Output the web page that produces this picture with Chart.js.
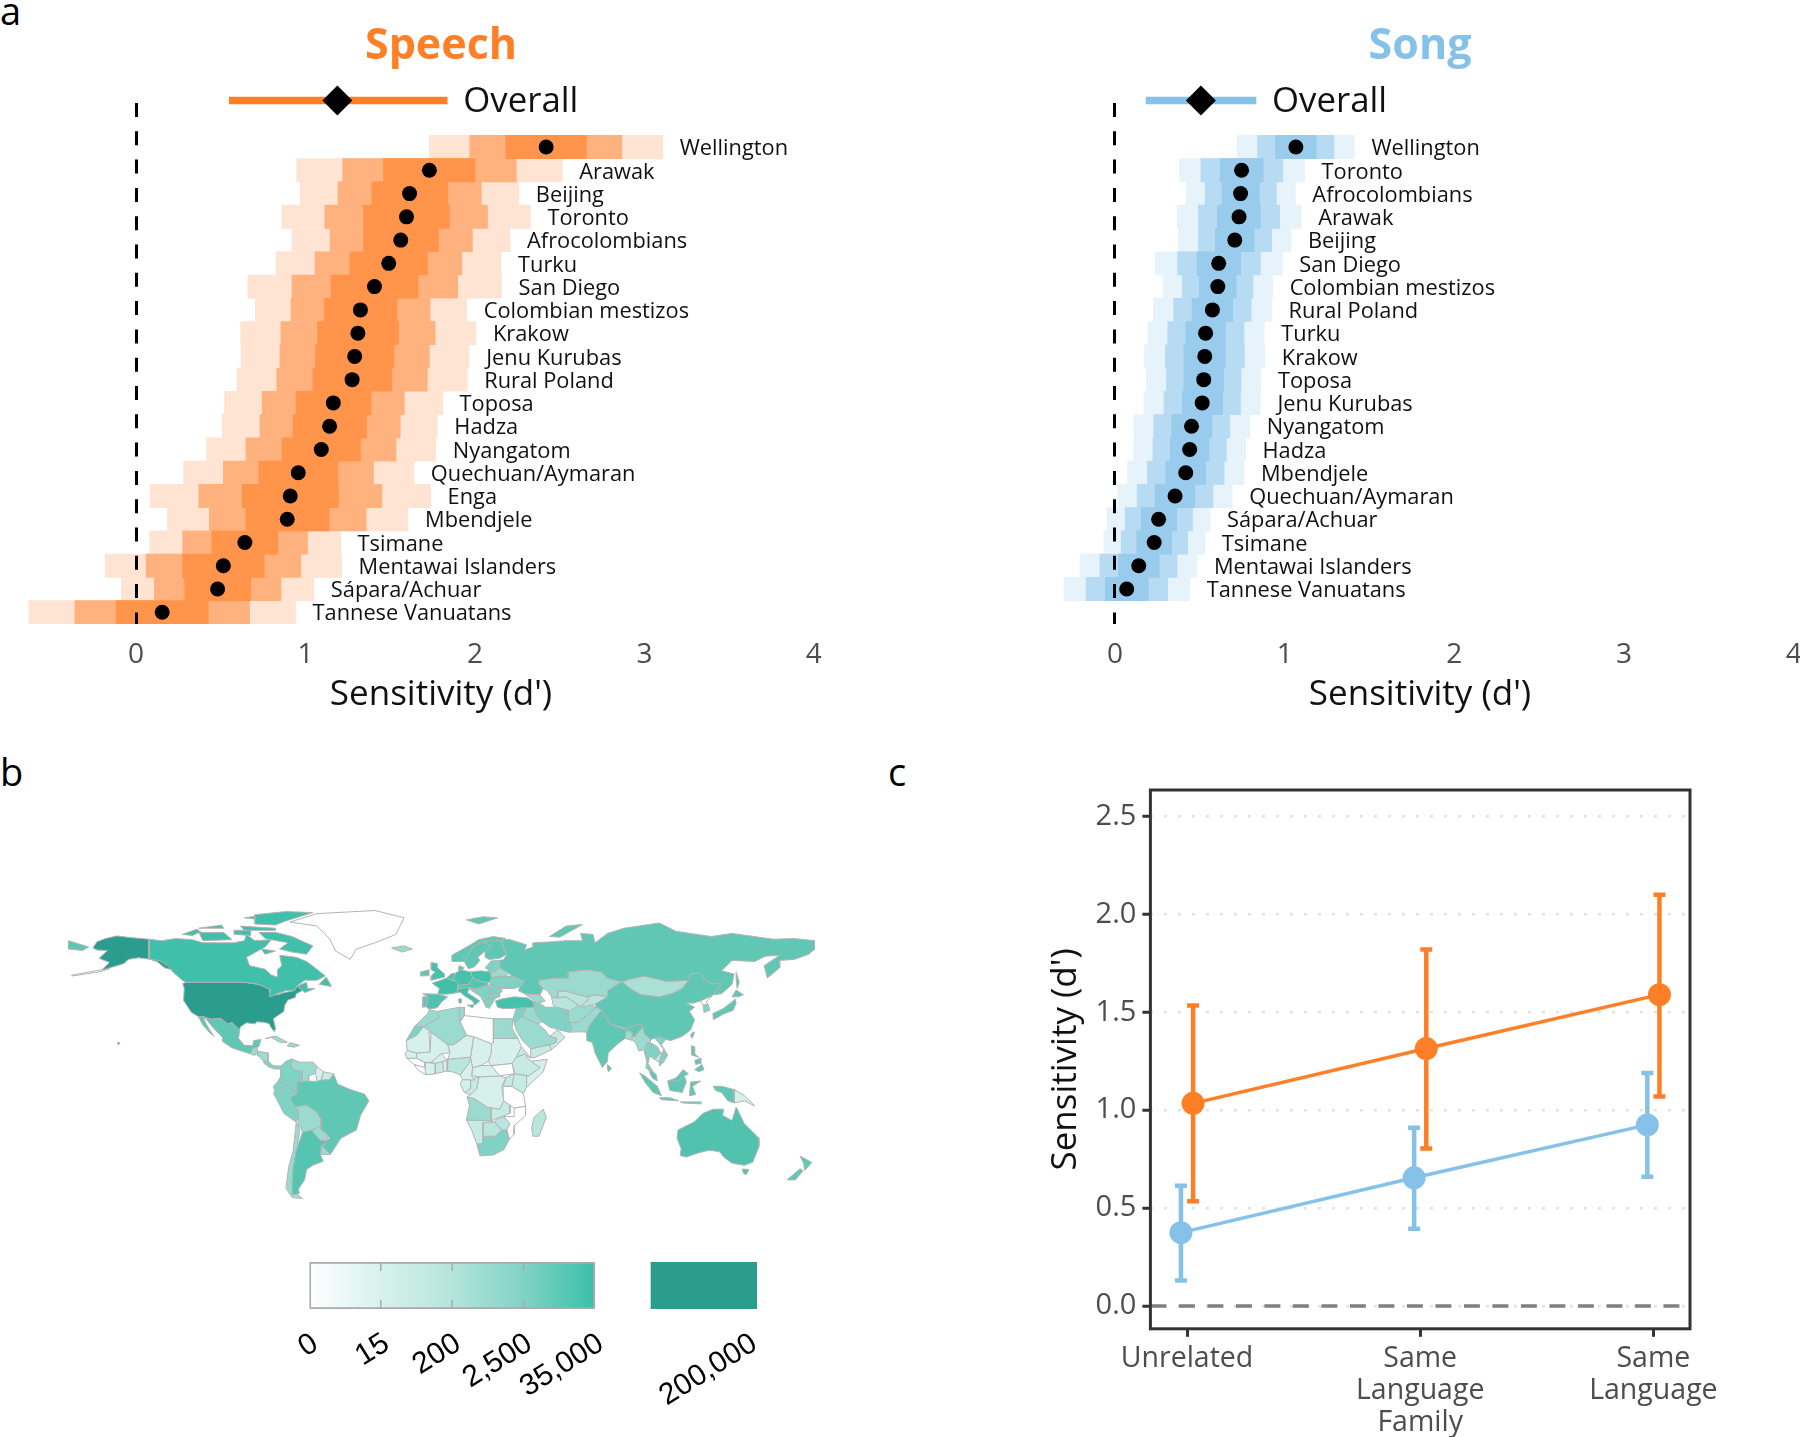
<!DOCTYPE html>
<html>
<head>
<meta charset="utf-8">
<title>Speech and song sensitivity</title>
<script src="https://cdn.jsdelivr.net/npm/chart.js@4/dist/chart.umd.min.js"></script>
<style>
  html, body { margin: 0; background: #fff; }
  #page { position: relative; width: 1800px; height: 1437px; overflow: hidden; font-family: "Open Sans", sans-serif; }
  #page canvas { position: absolute; }
  .tag { position: absolute; font-size: 38px; line-height: 38px; color: #000; }
</style>
</head>
<body>
<div id="page">
  <div class="tag" style="left:0;top:-9px">a</div>
  <div class="tag" style="left:0;top:752px">b</div>
  <div class="tag" style="left:888px;top:752px">c</div>
  <canvas id="speech" width="882" height="720" style="left:0;top:0"></canvas>
  <canvas id="song" width="800" height="720" style="left:1020px;top:0"></canvas>
  <canvas id="map" width="747" height="312" style="left:68px;top:897px"></canvas>
  <canvas id="mapLegend" width="520" height="187" style="left:280px;top:1250px"></canvas>
  <canvas id="groups" width="760" height="677" style="left:1040px;top:760px"></canvas>
</div>
<script>
// panel a, speech
const speechRows = ["Wellington", "Arawak", "Beijing", "Toronto", "Afrocolombians", "Turku", "San Diego", "Colombian mestizos", "Krakow", "Jenu Kurubas", "Rural Poland", "Toposa", "Hadza", "Nyangatom", "Quechuan/Aymaran", "Enga", "Mbendjele", "Tsimane", "Mentawai Islanders", "Sápara/Achuar", "Tannese Vanuatans"];
const speechMean = [2.420, 1.731, 1.614, 1.596, 1.562, 1.491, 1.407, 1.324, 1.309, 1.290, 1.275, 1.164, 1.142, 1.093, 0.957, 0.910, 0.892, 0.642, 0.515, 0.481, 0.154];
const speechLow50 = [2.182, 1.460, 1.392, 1.343, 1.343, 1.262, 1.151, 1.111, 1.071, 1.059, 1.043, 0.944, 0.926, 0.861, 0.725, 0.627, 0.648, 0.448, 0.275, 0.287, -0.117];
const speechHigh50 = [2.657, 2.000, 1.840, 1.849, 1.784, 1.719, 1.664, 1.540, 1.549, 1.522, 1.509, 1.386, 1.361, 1.324, 1.191, 1.194, 1.139, 0.836, 0.756, 0.676, 0.426];
const speechLow80 = [1.969, 1.219, 1.191, 1.114, 1.145, 1.056, 0.920, 0.914, 0.855, 0.849, 0.830, 0.744, 0.731, 0.648, 0.515, 0.370, 0.432, 0.275, 0.059, 0.108, -0.361];
const speechHigh80 = [2.867, 2.244, 2.037, 2.074, 1.985, 1.923, 1.898, 1.735, 1.765, 1.731, 1.719, 1.583, 1.559, 1.534, 1.401, 1.451, 1.358, 1.012, 0.972, 0.855, 0.670];
const speechLow95 = [1.731, 0.948, 0.969, 0.861, 0.920, 0.827, 0.660, 0.704, 0.617, 0.620, 0.596, 0.522, 0.509, 0.417, 0.281, 0.083, 0.185, 0.080, -0.182, -0.086, -0.633];
const speechHigh95 = [3.108, 2.515, 2.259, 2.327, 2.207, 2.154, 2.157, 1.951, 2.006, 1.966, 1.954, 1.809, 1.778, 1.769, 1.639, 1.738, 1.605, 1.207, 1.213, 1.049, 0.941];
const speechOverall = [0.55, 1.188, 1.836];

// panel a, song
const songRows = ["Wellington", "Toronto", "Afrocolombians", "Arawak", "Beijing", "San Diego", "Colombian mestizos", "Rural Poland", "Turku", "Krakow", "Toposa", "Jenu Kurubas", "Nyangatom", "Hadza", "Mbendjele", "Quechuan/Aymaran", "Sápara/Achuar", "Tsimane", "Mentawai Islanders", "Tannese Vanuatans"];
const songMean = [1.066, 0.746, 0.740, 0.731, 0.706, 0.611, 0.606, 0.574, 0.534, 0.529, 0.523, 0.514, 0.451, 0.440, 0.417, 0.354, 0.257, 0.231, 0.140, 0.069];
const songLow50 = [0.946, 0.620, 0.631, 0.603, 0.591, 0.483, 0.497, 0.454, 0.417, 0.406, 0.406, 0.397, 0.334, 0.326, 0.300, 0.237, 0.154, 0.129, 0.020, -0.057];
const songHigh50 = [1.186, 0.874, 0.851, 0.857, 0.820, 0.740, 0.714, 0.694, 0.651, 0.651, 0.640, 0.634, 0.571, 0.554, 0.534, 0.471, 0.363, 0.334, 0.260, 0.197];
const songLow80 = [0.840, 0.506, 0.531, 0.491, 0.491, 0.369, 0.397, 0.346, 0.311, 0.297, 0.303, 0.289, 0.229, 0.223, 0.191, 0.131, 0.060, 0.037, -0.089, -0.171];
const songHigh80 = [1.291, 0.989, 0.951, 0.971, 0.923, 0.857, 0.814, 0.803, 0.760, 0.763, 0.743, 0.740, 0.677, 0.657, 0.643, 0.577, 0.457, 0.429, 0.366, 0.311];
const songLow95 = [0.720, 0.380, 0.420, 0.366, 0.374, 0.237, 0.283, 0.226, 0.194, 0.174, 0.186, 0.171, 0.111, 0.111, 0.074, 0.017, -0.046, -0.066, -0.206, -0.300];
const songHigh95 = [1.411, 1.117, 1.063, 1.097, 1.037, 0.986, 0.929, 0.923, 0.880, 0.883, 0.860, 0.857, 0.794, 0.769, 0.760, 0.691, 0.560, 0.529, 0.483, 0.440];
const songOverall = [0.183, 0.506, 0.831];

// panel c
const groupTicks = [0, 1, 2];
const groupLabels = [["Unrelated"], ["Same", "Language", "Family"], ["Same", "Language"]];
const speechGroupX = [0.026, 1.026, 2.026];
const speechGroupMean = [1.035, 1.315, 1.59];
const speechGroupLow = [0.535, 0.805, 1.07];
const speechGroupHigh = [1.535, 1.82, 2.10];
const songGroupX = [-0.026, 0.974, 1.974];
const songGroupMean = [0.375, 0.655, 0.925];
const songGroupLow = [0.13, 0.395, 0.66];
const songGroupHigh = [0.615, 0.91, 1.19];

// panel b legend
const legendTickValues = [0, 1, 2, 3, 4, 6.15];
const legendTickLabels = ["0", "15", "200", "2,500", "35,000", "200,000"];
const legendRamp = [0, 4];
const legendTop = [4.785, 6.27];

const ORANGE = "#ff7f27";
const BLUE = "#85c1e9";
const INK = "#4d4d4d";
const FONT = "'Open Sans', sans-serif";

// panel b shades, sample size per country
const sUsa = "#2a9d8f", sCan = "#40bfab", sTur = "#45c1ac", sAus = "#50c2ae", sArg = "#55c4b1", sRus = "#61c7b5";
const sPer = "#80d2c4", sKaz = "#9bdbcf", sMon = "#aae0d6", sNam = "#b8e6dd", sNga = "#c5ebe3", sCod = "#d6f1ec", sNil = "#ffffff";

// outlines in [lon, lat]
const mapShapes = [
  [sNil, [[-73,78],[-60,82],[-32,83.5],[-18,80],[-22,72],[-32,68],[-41,65],[-44,60],[-51,64],[-54,70],[-60,76]]],
  [sNil, [[-178,52],[-165,54],[-160,55.5],[-165,54.8],[-178,52.5]]],
  [sUsa, [[-168,65.5],[-166,68.5],[-162,70],[-156.5,71.3],[-150,70.5],[-141,69.7],[-141,60.3],[-137,58.9],[-133.5,56],[-130,55],[-132,57],[-136,59.5],[-140,60],[-146,60.8],[-151,60],[-153,58],[-158,56.5],[-164,54.7],[-160,58.5],[-165,60.5],[-161,64.3],[-166,64.5]]],
  [sUsa, [[-156,20.3],[-155,19.8],[-155.5,19],[-156,19.5]]],
  [sCan, [[-141,69.7],[-135,69],[-128,70],[-120,69.5],[-115,68],[-108,68],[-100,68],[-95,69],[-94,72],[-90,69],[-82,69.5],[-85,66],[-94,61],[-92.5,57],[-85,55.3],[-82,52.5],[-79,51.5],[-79,55],[-77,57],[-78,62],[-70,61],[-65,59],[-61,56],[-56,52],[-60,50],[-66,50],[-70,47],[-65,49],[-64.5,46],[-61,46],[-66,44],[-67,45.2],[-69.5,47.3],[-71,45],[-75,45],[-79,43.5],[-83,42],[-82.5,45.5],[-88,48],[-95,49],[-123,49],[-125,50],[-130,54.5],[-130,55],[-134,58],[-137,59],[-141,60.3]]],
  [sCan, [[-80,73],[-72,71],[-62,66.5],[-65,62.5],[-72,63.5],[-78,65],[-74,68],[-85,70],[-88,73]]],
  [sCan, [[-117,73],[-105,73],[-101,69.5],[-115,69]]],
  [sCan, [[-90,77],[-80,76.5],[-75,78.5],[-62,82.5],[-75,83],[-90,81.5]]],
  [sCan, [[-125,72],[-118,74.5],[-116,73.3],[-120,71.5]]],
  [sCan, [[-97,76],[-80,75],[-80,74],[-95,74]]],
  [sCan, [[-117,75],[-106,76.5],[-105,75]]],
  [sCan, [[-95,80],[-87,79],[-88,81]]],
  [sCan, [[-100,74],[-92,74],[-92,71.5],[-100,72]]],
  [sCan, [[-87,65],[-80,64],[-85,62.5]]],
  [sCan, [[-59,48],[-53,47],[-55.5,51.5]]],
  [sUsa, [[-124.7,48.4],[-123,49],[-95,49],[-88,48],[-83,46],[-82.5,43],[-79,43],[-76,44],[-71,45],[-69.5,47.3],[-67,45],[-70,43.5],[-70.5,41.7],[-74,40.5],[-75.5,38],[-76,35],[-81,31.5],[-80,26.8],[-80.5,25.2],[-82,27],[-83,29],[-85,29.7],[-89,30],[-90,29],[-94,29.5],[-97,27.5],[-97.3,26],[-101,29.7],[-103,29],[-106.5,31.7],[-111,31.3],[-115,32.5],[-117.2,32.5],[-120.5,34.5],[-122.5,37.5],[-124.3,40.3],[-124,46]]],
  [sRus, [[-117.2,32.5],[-115,32.5],[-111,31.3],[-106.5,31.7],[-103,29],[-101,29.7],[-97.3,26],[-97.8,22],[-95,18.7],[-91,18.5],[-90.5,21],[-87,21.5],[-88,18],[-89,17.8],[-91,17.2],[-92.2,14.6],[-96,15.8],[-101,17.5],[-105.5,20.5],[-105.5,22.5],[-109,26],[-112.5,30],[-113.5,31.5],[-114.7,31.5],[-112,26.5],[-109.5,23],[-112,25],[-115,28.5]]],
  [sKaz, [[-92.2,14.6],[-91,17.2],[-89,17.8],[-88.5,15.8],[-90,13.8]]],
  [sKaz, [[-89,14],[-88.5,15.8],[-83.3,15],[-83.6,11],[-85.8,11],[-87.6,13]]],
  [sPer, [[-85.8,11],[-83.6,11],[-81,8.9],[-77.4,8.7],[-78,7.3],[-80.5,7.3],[-83,8.2],[-85.5,10]]],
  [sKaz, [[-85,22],[-80,23.2],[-74.2,20.2],[-77.5,19.9],[-82,22.4]]],
  [sKaz, [[-74.4,18.4],[-73,20],[-68.5,18.7],[-71,17.8]]],
  [sPer, [[-77.4,8.7],[-75,11],[-72,12.2],[-72.5,9],[-71.5,7],[-67.5,6.2],[-67.3,2],[-70,1],[-69.8,-4.2],[-72,-2.3],[-75,0],[-78.8,1.4],[-77.4,4],[-77.8,7]]],
  [sKaz, [[-72,12],[-68,10.5],[-62,10.7],[-60,8.5],[-61,5],[-60.7,5.2],[-64,4],[-64,1.5],[-67,1.5],[-67.5,6.2],[-71.5,7],[-72.5,9]]],
  [sCod, [[-60,8.5],[-57,6],[-58,2],[-60,1.3],[-60.7,5.2],[-61,7]]],
  [sNga, [[-57,6],[-52,5],[-54,2.3],[-58,2]]],
  [sPer, [[-78.8,1.4],[-75,0],[-75.5,-1.5],[-78.5,-4.8],[-80.3,-3.4],[-81,-1]]],
  [sPer, [[-81,-4.5],[-80.3,-3.4],[-78.5,-4.8],[-75.5,-1.5],[-75,0],[-72,-2.3],[-69.8,-4.2],[-73,-7],[-70.5,-11],[-69,-12.5],[-69,-16],[-70,-18.3],[-76,-14],[-79,-8]]],
  [sRus, [[-60,5],[-60,1.3],[-64,1.5],[-67,1.5],[-70,1],[-69.8,-4.2],[-73,-7],[-70.5,-11],[-65.3,-10],[-60,-13.5],[-58,-17],[-58,-22],[-55,-24],[-54,-26],[-57.5,-30],[-53.5,-33.7],[-48.5,-26],[-41,-22],[-39,-15],[-35,-8],[-37,-4.8],[-44,-2.5],[-50,0],[-52,5],[-54,2.3],[-58,2]]],
  [sKaz, [[-69,-12.5],[-70.5,-11],[-65.3,-10],[-60,-13.5],[-58,-17],[-58,-20],[-62.5,-22],[-67,-23],[-69,-19],[-69,-16]]],
  [sKaz, [[-62.5,-22],[-58,-20],[-58,-22],[-55,-24],[-54.6,-27],[-58.5,-27]]],
  [sArg, [[-67,-23],[-62.5,-22],[-58.5,-27],[-54.6,-27],[-58,-30],[-58.3,-34],[-57,-37],[-62,-39],[-65,-41],[-66,-46],[-69,-50.5],[-68.5,-52.5],[-72,-53],[-72,-48],[-71.5,-40],[-70,-32]]],
  [sKaz, [[-70,-18.3],[-69.2,-19],[-68.3,-23],[-70,-32],[-71.2,-40],[-72,-48],[-70,-52.5],[-67,-55],[-72,-54.5],[-75,-50],[-73.7,-40],[-71.5,-32],[-70.4,-22]]],
  [sKaz, [[-58,-30.2],[-57.5,-30],[-53.5,-33.7],[-58.3,-34]]],
  [sKaz, [[-24,65.5],[-18,66.5],[-14,65],[-19,63.5]]],
  [sTur, [[-5,50],[1.5,51.5],[1.5,53],[-2,56],[-2,58],[-5,58.5],[-5,55],[-3,54],[-5,52]]],
  [sRus, [[-10,52],[-6,52.2],[-6,55],[-10,54]]],
  [sCan, [[-4.5,48.5],[2.5,51],[8,49],[7.5,44],[3,43.3],[-1.8,43.3],[-1,46]]],
  [sAus, [[-9,43.5],[-1.8,43.3],[3,42],[0,39.5],[-2,36.8],[-6,36],[-7.3,37.2],[-6.5,42]]],
  [sRus, [[-9,37],[-7.3,37.2],[-6.5,42],[-9,42]]],
  [sTur, [[6,51],[7,53.5],[9,55],[14,54],[15,51],[13,48],[8,47.6],[6,49.5]]],
  [sAus, [[2.5,51],[4.5,53],[7,53.5],[6,50]]],
  [sRus, [[8,55],[8.5,57],[11,56],[10,54.8]]],
  [sTur, [[14,54],[19,54.5],[23.5,54],[24,50.5],[22.5,49],[19,49.5],[15,51]]],
  [sCan, [[7.5,44],[8,46],[13.5,46.5],[12.5,44],[16,41.7],[18.5,40],[16,38],[15,40],[11,42.5],[9,44.3]]],
  [sCan, [[12.5,38],[15.5,38.2],[15,36.7]]],
  [sCan, [[8.2,41],[9.7,41],[9.5,39],[8.5,39]]],
  [sArg, [[8,47.6],[13,48],[15,51],[19,49.5],[22.5,49],[22,47.5],[16.5,46],[13.5,46.5],[8,46]]],
  [sPer, [[22,47.5],[24,48],[28,46],[29.5,45],[28,43.7],[22.7,44]]],
  [sPer, [[22.7,44],[28,43.7],[28,42],[26,41.3],[23,41.3]]],
  [sPer, [[13.5,46],[16.5,46],[22,47.5],[22.7,44],[23,41.3],[20,40],[19,42],[14.5,45]]],
  [sPer, [[20,40],[23,41.3],[26,41.3],[24,38],[23,36.5],[21.5,37]]],
  [sRus, [[5,59],[5,62],[13,66.5],[18,69.5],[25,71],[31,70],[29,69],[20,68.8],[15,66],[12,61],[11,59]]],
  [sRus, [[11,59],[12,61],[15,66],[20,68.8],[24,66],[21,64],[17.5,61],[18.5,59.5],[16,56.5],[13,55.5]]],
  [sRus, [[20,68.8],[29,69.5],[30,65],[31.5,62.5],[28,60.5],[23,60],[21,61],[21,64],[24,66]]],
  [sPer, [[21,56],[24,59.3],[28,59.5],[28,56],[26,54],[23.5,54]]],
  [sKaz, [[23.5,54],[26,54],[28,56],[32,53.5],[31,52],[24,51.5]]],
  [sPer, [[24,50.5],[24,51.5],[31,52],[34,52],[40,49.5],[38,47],[35,46],[33,46],[30,46],[28,46],[24,48],[22.5,49]]],
  [sRus, [[28,59.5],[30,60],[31.5,62.5],[30,65],[29,69.5],[33,69.5],[41,67],[40,64.5],[44,66],[44,68],[54,68.5],[60,69],[68,69],[67,72.5],[73,72],[74,68],[80,72.5],[88,75],[105,77.5],[113,73.5],[130,71],[140,72.5],[160,69.7],[170,70],[180,69],[180,65],[177,62.5],[170,60],[163,59.5],[163,56],[157,51],[155.5,57],[163,62],[156,61.5],[151,59],[140,59.5],[135,54.5],[141,53],[140,48],[135,43.5],[131,43],[135,48.5],[130.5,48.5],[127,50],[125,53.5],[120,53],[119,50],[116,49.8],[108,49.5],[98,52],[92,50.8],[87,49.2],[80,51],[77,54],[70,55],[61,54],[61,51],[55,51],[47,50],[47,48],[49,46],[47.5,43],[40,43.5],[37,45],[38,47],[40,49.5],[34,52],[32,53.5],[28,56]]],
  [sRus, [[-180,69],[-175,67.5],[-170,66],[-173,64.3],[-180,65]]],
  [sRus, [[52,71],[57,70.7],[68,76.8],[60,76]]],
  [sRus, [[142,54],[143.5,49],[142.5,46],[142,50]]],
  [sRus, [[12,79],[20,80.5],[27,80],[18,77]]],
  [sKaz, [[47,50],[55,51],[61,51],[61,54],[70,55],[77,54],[80,51],[87,49.2],[83,47],[80,45],[80,42],[74,43],[70,42],[66,43],[61,44.5],[56,45],[56,41.5],[53,42],[51,45],[49,46],[47,48]]],
  [sNam, [[53,42],[56,41.5],[60,42],[66,38],[62,35.3],[54,37.5]]],
  [sNam, [[56,45],[61,44.5],[66,43],[70,42],[71,41],[67,37.3],[66,38],[60,42],[56,41.5]]],
  [sNam, [[70,42],[74,43],[80,42],[74,38.5],[68,37],[67,37.3],[71,41]]],
  [sKaz, [[40,43.5],[47.5,43],[50,40],[46,38.8],[43.5,41]]],
  [sTur, [[26,40],[29,41],[35,42],[41.5,41.5],[44.5,39.5],[44.5,37],[36,36.5],[30,36.3],[27,37]]],
  [sPer, [[44.5,39.5],[48,38.5],[50,37],[54,37],[61,36.5],[61,31.5],[63,27],[61.5,25],[57,26],[52,27.5],[48.5,30],[46,33],[44.5,37]]],
  [sKaz, [[41,37],[44.5,37],[46,33],[48.5,30],[46.5,29],[39,32.5]]],
  [sPer, [[36,36.5],[41,37],[39,32.5],[35,29.5],[34.5,31.5]]],
  [sKaz, [[35,29.5],[39,32.5],[46.5,29],[50,26],[52,23],[55.5,22],[55,20],[52,19],[43,17],[39,21],[36,26]]],
  [sNga, [[43,17],[52,19],[53,16.5],[45,12.8],[43,12.8]]],
  [sNga, [[52,23],[56,26],[59.5,22.5],[53,16.5],[52,19],[55,20],[55.5,22]]],
  [sKaz, [[61,36.5],[66,38],[71,38.5],[74.5,37],[71,34],[66.5,30],[61,29.5],[61,31.5]]],
  [sKaz, [[61,29.5],[66.5,30],[71,34],[74.5,37],[77,35.5],[74,32],[71,28],[70,25],[66.5,25.2],[61.5,25],[63,27]]],
  [sRus, [[74,32],[77,35.5],[79,32.5],[81,29],[88,26.5],[89,26.8],[96,29],[97,27.5],[94,24],[92,22],[92,25],[89,26],[88.5,22],[85,19.5],[80.3,15],[80,11],[77.5,8],[74,15],[72.7,20],[70,21],[70,25],[71,28]]],
  [sKaz, [[88.5,22],[89,26],[92,25],[92,21]]],
  [sRus, [[80,9.5],[82,7.5],[80.5,6],[79.8,8]]],
  [sRus, [[74,39.5],[80,42],[80,45],[83,47],[87,49.2],[91,46],[96,43],[105,42],[111,43.5],[116,46],[119,50],[120,53],[125,53.5],[127,50],[130.5,48.5],[135,48.5],[131,43],[128,41.5],[124.5,40],[121.5,39],[118,39],[122,37],[119.5,35],[122,31],[120,26],[116,23],[110.5,21],[108,21.5],[105,23],[101,21.5],[98,24],[97,27.5],[96,29],[89,26.8],[81,29],[79,32.5],[77,35.5],[74.5,37]]],
  [sMon, [[87,49.2],[92,50.8],[98,52],[108,49.5],[116,49.8],[119,50],[116,46],[111,43.5],[105,42],[96,43],[91,46]]],
  [sPer, [[126,38],[128.5,38.5],[129.3,35.5],[126.5,34.5]]],
  [sNil, [[124.5,40],[128,41.5],[130.5,42.5],[127.5,39.5],[128.5,38.5],[126,38]]],
  [sRus, [[130.8,34],[136,36.5],[140,39.5],[141.5,41],[142,39],[140.5,35.5],[136,33.8],[131,31]]],
  [sRus, [[140,42],[142,45.3],[145.5,43],[143,42]]],
  [sRus, [[121,25],[122,25],[120.8,22],[120,23.5]]],
  [sKaz, [[92.5,21],[94,24],[97,27.5],[98,24],[101,21.5],[99,20],[98,16],[99,11],[97.5,16.5],[95,16],[94,19]]],
  [sPer, [[99,20],[100.5,20],[104,18],[105.5,15],[102.5,12],[100.5,13.5],[99.5,10],[102,6],[100,6.5],[98.5,8],[99,11],[98,16]]],
  [sNil, [[101,21.5],[102.5,22.5],[107,17],[106.5,15],[105.5,15],[104,18],[100.5,20]]],
  [sPer, [[102.5,22.5],[105,23],[108,21.5],[106,19],[109,14],[107,10.5],[105,8.7],[105,10.5],[106.5,15],[107,17]]],
  [sNam, [[102.5,12],[105.5,15],[106.5,15],[105,10.5]]],
  [sRus, [[100,6.5],[102,6],[103.5,4.5],[104,1.5],[101.5,3]]],
  [sRus, [[95.5,5.5],[98,4],[104,-1],[106,-5.5],[102,-4],[98,1]]],
  [sRus, [[105,-6.5],[110,-6.5],[114.5,-8],[106,-7.5]]],
  [sRus, [[109,1.5],[114,1.5],[117,4],[118,1],[116,-4],[110,-3]]],
  [sRus, [[109,1.5],[113,3],[116.5,7],[119,5],[117,4],[114,1.5]]],
  [sRus, [[120,1],[125,1.5],[121,-1],[122.5,-5],[119.5,-5.5]]],
  [sRus, [[120.5,18.5],[122,18],[122,14.5],[124,13],[120.5,14]]],
  [sRus, [[122,7],[125.5,9.5],[126.5,7],[124,6]]],
  [sRus, [[122,11.5],[125,12.5],[125,10],[122.5,9.5]]],
  [sRus, [[131,-1],[135,-1],[141,-2.6],[141,-9],[138,-8],[135,-4],[132,-3]]],
  [sCod, [[141,-2.6],[146,-5.5],[151,-10.5],[146,-8],[141,-9]]],
  [sRus, [[115,-8.5],[125,-8.5],[125,-9.5],[116,-9]]],
  [sAus, [[114,-22],[122,-18],[126,-14],[131,-12],[136,-12],[135.5,-15],[140,-17.5],[142,-11],[146,-19],[153,-26],[153,-30],[150,-37.5],[146,-39],[140,-38],[136,-35],[134,-32.5],[129,-31.7],[124,-33],[118,-35],[115,-34.3],[115.5,-31],[113.5,-26]]],
  [sAus, [[144.8,-40.8],[148.2,-41],[146.8,-43.5],[145.5,-42.8]]],
  [sRus, [[172.8,-34.5],[178.5,-37.7],[175,-41.5],[174.5,-38]]],
  [sRus, [[172.8,-40.6],[174.2,-41.7],[170.5,-46],[166.5,-46],[170,-43]]],
  [sKaz, [[-5.8,35.8],[-2,35],[-1,32],[-5,30],[-8.7,27.7],[-13,27.7],[-9.8,31],[-7,33.5]]],
  [sPer, [[-13,27.7],[-8.7,27.7],[-12,23.5],[-17,21]]],
  [sKaz, [[-2,35],[8.5,37],[9,30],[12,23.5],[6,19],[3,19],[-5,25],[-8.7,27.7],[-5,30],[-1,32]]],
  [sKaz, [[8.5,37],[11,37],[11,33],[9,30]]],
  [sNil, [[9,30],[11,33],[20,32],[25,31.5],[25,20],[24,19.5],[15,23],[12,23.5]]],
  [sKaz, [[25,31.5],[34.5,31.5],[34,27],[36.8,22],[25,22]]],
  [sCod, [[-17,21],[-12,23.5],[-8.7,27.7],[-5,25],[-6,25],[-5.5,15.5],[-12,15],[-16.5,16.3]]],
  [sCod, [[-12,15],[-5.5,15.5],[-5,25],[3,19],[4,15],[0,14.8],[-5,10.5],[-8,10.5],[-12,12.5]]],
  [sCod, [[4,15],[3,12],[14,13],[15.5,23],[12,23.5],[6,19],[3,19]]],
  [sCod, [[14,13],[15,8],[19,9],[22.5,11],[24,15],[24,19.5],[15.5,23]]],
  [sCod, [[24,19.5],[25,22],[36.8,22],[38.5,18],[36,13],[34,10],[24,9],[22.5,11],[24,15]]],
  [sNil, [[24,9],[34,10],[35,5],[28,4]]],
  [sCod, [[-17.5,14.7],[-16.5,16.3],[-12,15],[-12,12.5],[-16.7,12.4]]],
  [sNil, [[-16.7,12.4],[-12,12.5],[-8,10.5],[-8,8],[-13.2,9.5]]],
  [sNil, [[-13.2,9.5],[-10.5,9],[-8,8],[-7.5,4.5],[-11.5,7]]],
  [sCod, [[-8,10.5],[-3,10],[-3,5],[-7.5,4.5],[-8,8]]],
  [sCod, [[-5,10.5],[0,14.8],[2.5,11.5],[-3,10]]],
  [sNga, [[-3,10],[0.5,11],[1,6],[-3,5]]],
  [sCod, [[0.5,11],[3,12],[2.7,6.3],[1,6]]],
  [sNam, [[3,12],[14,13],[13.5,10.5],[9,4.5],[5,6],[2.7,6.3]]],
  [sCod, [[9,4.5],[13.5,10.5],[14,13],[15,8],[14.5,4],[16,2],[10,2.2]]],
  [sCod, [[15,8],[19,9],[24,9],[28,4],[19,3.5],[14.5,4]]],
  [sCod, [[10,2.2],[14,2.2],[14,-2],[11,-4],[9,0]]],
  [sNga, [[14,2.2],[18,3.5],[17,-2],[14,-5],[11,-4],[14,-2]]],
  [sCod, [[18,3.5],[28,4],[31,3],[29,-1],[30,-8],[28,-12],[22,-11],[16,-7],[12.3,-6],[14,-5],[17,-2]]],
  [sNga, [[36,13],[38.5,18],[43,12.5],[40,14.5]]],
  [sNga, [[34,10],[36,13],[40,14.5],[43,11],[47.5,8],[42,4],[35.5,5]]],
  [sCod, [[43,11],[51,12],[49,6],[41,-1.5],[41,4],[42,4],[47.5,8]]],
  [sNga, [[35,5],[42,4],[41,-1.5],[39.5,-4.5],[34,-1]]],
  [sNga, [[31,3],[35,5],[34,-1],[29.7,-1]]],
  [sNil, [[29.7,-1],[34,-1],[39.5,-4.5],[40.5,-10.5],[35,-11.5],[30,-8]]],
  [sKaz, [[12.3,-6],[16,-7],[22,-11],[24,-11],[24,-17.5],[12,-17.2],[13.5,-10]]],
  [sNga, [[22,-11],[28,-12],[30,-8],[33,-9],[33,-14],[28,-16],[24,-17.5],[24,-11]]],
  [sNil, [[35,-11.5],[40.5,-10.5],[40.5,-15],[35,-20],[35,-24],[32.8,-26.5],[31.5,-22],[33,-19],[30,-15.5],[35,-15.5]]],
  [sNam, [[25.5,-18],[28,-16],[33,-16.5],[33,-19],[31.5,-22],[29,-22]]],
  [sNga, [[12,-17.2],[24,-17.5],[25.5,-18],[20,-18.5],[20,-28.5],[17,-28.7],[14.5,-22]]],
  [sNam, [[20,-18.5],[25.5,-18],[29,-22],[26,-25],[20,-25]]],
  [sPer, [[17,-28.7],[20,-28.5],[20,-25],[26,-25],[29,-22],[31.5,-22],[32.8,-26.5],[30,-31.5],[25,-34],[18.5,-34.5]]],
  [sNam, [[49,-12],[50.5,-16],[47,-25],[44,-25],[43.5,-21],[44.5,-16]]]
];

Chart.defaults.animation = false;
Chart.defaults.font.family = FONT;
Chart.defaults.plugins.legend.display = false;
Chart.defaults.plugins.tooltip.enabled = false;

// names to the right of each row, and "Overall"
const rowText = {
  id: "rowText",
  afterDatasetsDraw(chart, args, opts) {
    const ctx = chart.ctx;
    ctx.save();
    ctx.textBaseline = "middle";
    ctx.fillStyle = "#111";
    opts.rows.forEach((name, i) => {
      ctx.font = "21.8px " + FONT;
      ctx.fillText(name, chart.scales.x.getPixelForValue(opts.ends[i]) + 17, chart.scales.y.getPixelForValue(name) + 2);
    });
    ctx.font = "34.8px " + FONT;
    ctx.fillText("Overall", chart.scales.x.getPixelForValue(opts.overallEnd) + 16, chart.scales.y.getPixelForValue("Overall") + 2);
    ctx.restore();
  }
};

function forestChart(id, cfg) {
  const span = (lo, hi) => cfg.rows.map((r, i) => ({ y: r, x: [lo[i], hi[i]] }));
  const band = (lo, hi, color, order) => ({
    data: span(lo, hi), backgroundColor: color, order: order,
    barPercentage: 1, categoryPercentage: 1, grouped: false
  });
  // both panels keep the same row height, song has one row less
  const blanks = cfg.rows.length < 21 ? ["  "] : [];
  return new Chart(document.getElementById(id), {
    type: "bar",
    data: {
      labels: ["Overall", " "].concat(cfg.rows, blanks),
      datasets: [
        { type: "line", showLine: false, data: cfg.rows.map((r, i) => ({ y: r, x: cfg.mean[i] })), pointRadius: 7.5, pointBackgroundColor: "#000", pointBorderWidth: 0, order: 0 },
        { type: "line", showLine: false, data: [{ y: "Overall", x: cfg.overall[1] }], pointStyle: "rectRot", pointRadius: 15, pointBackgroundColor: "#000", pointBorderWidth: 0, order: 0 },
        { data: [{ y: "Overall", x: [cfg.overall[0], cfg.overall[2]] }], backgroundColor: cfg.color, barThickness: 7, grouped: false, order: 1 },
        band(cfg.low50, cfg.high50, cfg.shades[0], 2),
        band(cfg.low80, cfg.high80, cfg.shades[1], 3),
        band(cfg.low95, cfg.high95, cfg.shades[2], 4)
      ]
    },
    options: {
      responsive: false,
      indexAxis: "y",
      layout: { padding: { left: 20, right: 20 } },
      plugins: {
        title: { display: true, text: cfg.title, color: cfg.color, font: { size: 43, weight: "bold", lineHeight: 1 }, padding: { top: 25.5, bottom: 20.4 } },
        rowText: { rows: cfg.rows, ends: cfg.high95, overallEnd: cfg.overall[2] }
      },
      scales: {
        y: { type: "category", display: false, offset: true },
        x: {
          type: "linear", min: cfg.min, max: cfg.max,
          grid: { z: 1, drawTicks: false, lineWidth: 3, color: c => (c.tick && c.tick.value === 0 ? "#000" : "rgba(0,0,0,0)") },
          border: { display: false, dash: [14, 14.3], dashOffset: 14.2 },
          ticks: { stepSize: 1, includeBounds: false, autoSkip: false, maxRotation: 0, color: INK, font: { size: 28 }, padding: 14 },
          title: { display: true, text: "Sensitivity (d')", color: "#111", font: { size: 35, lineHeight: 1.2 }, padding: { top: 0, bottom: 3.5 } },
          afterFit: s => { s.height = 96.1; s.paddingLeft = 0; s.paddingRight = 0; }
        }
      }
    },
    plugins: [rowText]
  });
}

forestChart("speech", {
  title: "Speech", color: ORANGE, shades: ["#ff944a", "#ffb27e", "#ffe4d4"], min: -0.685, max: 4.284,
  rows: speechRows, mean: speechMean, overall: speechOverall,
  low50: speechLow50, high50: speechHigh50, low80: speechLow80, high80: speechHigh80, low95: speechLow95, high95: speechHigh95
});
forestChart("song", {
  title: "Song", color: BLUE, shades: ["#98cbec", "#b7dbf3", "#e7f3fb"], min: -0.442, max: 4.037,
  rows: songRows, mean: songMean, overall: songOverall,
  low50: songLow50, high50: songHigh50, low80: songLow80, high80: songHigh80, low95: songLow95, high95: songHigh95
});

// panel b
new Chart(document.getElementById("map"), {
  type: "scatter",
  data: {
    datasets: mapShapes.map(s => ({
      data: s[1].concat([s[1][0]]).map(p => ({ x: p[0], y: p[1] })),
      showLine: true, fill: "shape", tension: 0, pointRadius: 0,
      backgroundColor: s[0], borderColor: "#b4b4b4", borderWidth: 1
    }))
  },
  options: {
    responsive: false,
    scales: {
      x: { type: "linear", min: -180, max: 180, display: false },
      y: { type: "linear", min: -60, max: 90, display: false }
    }
  }
});

const rampMarks = {
  id: "rampMarks",
  afterDatasetsDraw(chart) {
    const ctx = chart.ctx, a = chart.chartArea;
    ctx.save();
    ctx.strokeStyle = "#aaa";
    ctx.lineWidth = 1.5;
    legendTickValues.slice(1, 4).forEach(v => {
      const x = chart.scales.x.getPixelForValue(v);
      ctx.beginPath();
      ctx.moveTo(x, a.top); ctx.lineTo(x, a.top + 9);
      ctx.moveTo(x, a.bottom); ctx.lineTo(x, a.bottom - 9);
      ctx.stroke();
    });
    ctx.restore();
  }
};

new Chart(document.getElementById("mapLegend"), {
  type: "bar",
  data: {
    labels: ["n"],
    datasets: [
      {
        data: [{ y: "n", x: legendRamp }], barPercentage: 1, categoryPercentage: 1, grouped: false,
        borderColor: "#aaa", borderWidth: 2, borderSkipped: false,
        backgroundColor: c => {
          const a = c.chart.chartArea;
          if (!a) return "#fff";
          const right = a.left + (a.right - a.left) * legendRamp[1] / legendTop[1];
          const g = c.chart.ctx.createLinearGradient(a.left, 0, right, 0);
          g.addColorStop(0, "#ffffff"); g.addColorStop(0.25, "#d8f1ec"); g.addColorStop(0.5, "#b4e5dc"); g.addColorStop(0.75, "#80d3c4"); g.addColorStop(1, "#3bbfa9");
          return g;
        }
      },
      { data: [{ y: "n", x: legendTop }], barPercentage: 1, categoryPercentage: 1, grouped: false, backgroundColor: sUsa }
    ]
  },
  options: {
    responsive: false,
    indexAxis: "y",
    layout: { padding: { left: 29.4, right: 43, top: 12 } },
    scales: {
      y: { type: "category", display: false },
      x: {
        type: "linear", min: 0, max: 6.27,
        grid: { display: false }, border: { display: false },
        afterBuildTicks: s => { s.ticks = legendTickValues.map(v => ({ value: v })); },
        ticks: {
          autoSkip: false, minRotation: 32, maxRotation: 32, padding: 9, color: "#000", labelOffset: 6,
          font: { family: "'Liberation Sans', sans-serif", size: 30 },
          callback: v => legendTickLabels[legendTickValues.indexOf(v)]
        },
        afterFit: s => { s.height = 128; s.paddingLeft = 0; s.paddingRight = 0; }
      }
    }
  },
  plugins: [rampMarks]
});

// panel c
const frameBox = {
  id: "frameBox",
  afterDraw(chart) {
    const a = chart.chartArea, ctx = chart.ctx;
    ctx.save();
    ctx.strokeStyle = "#333";
    ctx.lineWidth = 3;
    ctx.strokeRect(a.left, a.top, a.right - a.left, a.bottom - a.top);
    ctx.restore();
  }
};

const groupSeries = (xs, ys, color) => ({
  data: xs.map((x, i) => ({ x: x, y: ys[i] })), showLine: true, tension: 0,
  borderColor: color, borderWidth: 3.5, pointRadius: 11.5, pointBackgroundColor: color, pointBorderWidth: 0
});
const groupErrors = (xs, lo, hi, color) => xs.map((x, i) => ({
  data: [{ x: x, y: lo[i] }, { x: x, y: hi[i] }], showLine: true,
  borderColor: color, borderWidth: 4.5, pointStyle: "line", pointRadius: 6, pointBorderColor: color, pointBorderWidth: 4.5
}));

const GROUP_MIN = -0.157, GROUP_MAX = 2.157;

new Chart(document.getElementById("groups"), {
  type: "scatter",
  data: {
    datasets: [
      groupSeries(speechGroupX, speechGroupMean, ORANGE),
      groupSeries(songGroupX, songGroupMean, BLUE),
      ...groupErrors(speechGroupX, speechGroupLow, speechGroupHigh, ORANGE),
      ...groupErrors(songGroupX, songGroupLow, songGroupHigh, BLUE),
      { data: [{ x: GROUP_MIN, y: 0 }, { x: GROUP_MAX, y: 0 }], showLine: true, pointRadius: 0, borderColor: "#808080", borderWidth: 3.5, borderDash: [16, 12.5] }
    ]
  },
  options: {
    responsive: false,
    layout: { padding: { top: 30, right: 110 } },
    scales: {
      x: {
        type: "linear", min: GROUP_MIN, max: GROUP_MAX,
        grid: { drawOnChartArea: false, tickColor: "#333", tickWidth: 3, tickLength: 8 },
        border: { display: false },
        afterBuildTicks: s => { s.ticks = groupTicks.map(v => ({ value: v })); },
        ticks: { autoSkip: false, maxRotation: 0, color: INK, font: { size: 28.5, lineHeight: 1.12 }, padding: 6, callback: v => groupLabels[v] },
        afterFit: s => { s.height = 108.2; s.paddingLeft = 0; s.paddingRight = 0; }
      },
      y: {
        type: "linear", min: -0.116, max: 2.635,
        grid: { color: "#e2e2e2", lineWidth: 2.5, tickColor: "#333", tickWidth: 3, tickLength: 8 },
        border: { display: false, dash: [3, 11] },
        ticks: { stepSize: 0.5, includeBounds: false, autoSkip: false, color: INK, font: { size: 29 }, padding: 6, callback: v => v.toFixed(1) },
        title: { display: true, text: "Sensitivity (d')", color: "#111", font: { size: 35, lineHeight: 1.2 }, padding: { top: 5, bottom: 0 } },
        afterFit: s => { s.width = 110.4; s.paddingTop = 0; s.paddingBottom = 0; }
      }
    }
  },
  plugins: [frameBox]
});
</script>
</body>
</html>
